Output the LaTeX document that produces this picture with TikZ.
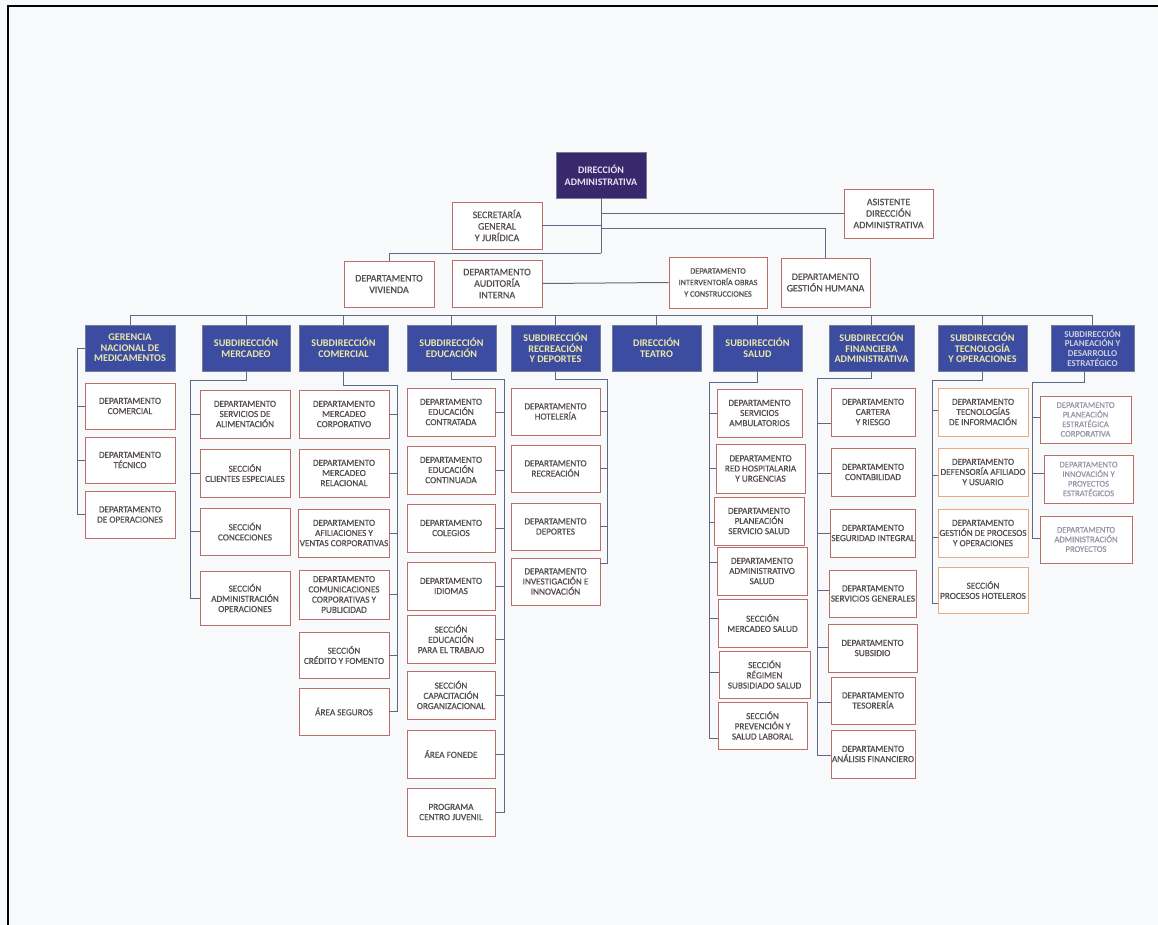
\documentclass[tikz,border=0pt]{standalone}
\usepackage{fontspec}
\setmainfont{Carlito}
\newfontfamily\medfont{Carlito}[FakeBold=0.6]
\definecolor{bg}{RGB}{248,249,251}
\definecolor{hdrfill}{RGB}{60,76,160}
\definecolor{hdrline}{RGB}{120,125,150}
\definecolor{hdrtext}{RGB}{236,232,170}
\definecolor{dirfill}{RGB}{58,40,108}
\definecolor{dirtext}{RGB}{232,228,245}
\definecolor{boxline}{RGB}{185,110,105}
\definecolor{boxtext}{RGB}{85,78,80}
\definecolor{orgline}{RGB}{95,105,132}
\definecolor{tecline}{RGB}{232,170,130}
\definecolor{fadetext}{RGB}{150,150,168}
\definecolor{fadehdr}{RGB}{205,208,225}
\newcommand\orgbox[7]{\node[#1, minimum width={(#4-#3)*1pt}, minimum height={(#6-#5)*1pt}] (#2) at ({(#3+#4)/2},{(#5+#6)/2}) {#7};}
\tikzset{
  topbox/.style={draw=boxline, fill=white, text=boxtext, line width=0.9pt, align=center, inner sep=1pt, font=\medfont\fontsize{10}{11.5}\selectfont},
  topsmall/.style={topbox, font=\medfont\fontsize{8.2}{11.5}\selectfont},
  dirbox/.style={draw=hdrline, fill=dirfill, text=dirtext, line width=0.9pt, align=center, inner sep=1pt, font=\bfseries\fontsize{10}{12}\selectfont},
  hdr/.style={draw=hdrline, fill=hdrfill, text=hdrtext, line width=0.9pt, align=center, inner sep=1pt, font=\bfseries\fontsize{10.2}{10.5}\selectfont},
  hdrfade/.style={hdr, text=fadehdr, font=\bfseries\fontsize{9}{9.6}\selectfont},
  cb/.style={draw=boxline, fill=white, text=boxtext, line width=0.9pt, align=center, inner sep=1pt, font=\medfont\fontsize{9.2}{10.2}\selectfont},
  cbtec/.style={cb, draw=tecline},
  cbfade/.style={cb, text=fadetext, font=\medfont\fontsize{8.6}{9.6}\selectfont},
  conn/.style={draw=orgline, line width=1pt}
}
\begin{document}
\begin{tikzpicture}[x=1pt,y=-1pt]
\fill[bg] (0,0) rectangle (1158,925);
\useasboundingbox (0,0) rectangle (1158,925);
\draw[line width=2.5pt, black] (1158,6) -- (8,6) -- (8,925);

% ---------- top level ----------
\orgbox{dirbox}{dir}{556}{646}{152}{198}{DIRECCIÓN\\ADMINISTRATIVA}
\orgbox{topbox}{sec}{452}{542}{202}{249}{SECRETARÍA\\GENERAL\\Y JURÍDICA}
\orgbox{topbox}{asi}{844}{933}{189}{238}{ASISTENTE\\DIRECCIÓN\\ADMINISTRATIVA}
\orgbox{topbox}{viv}{344}{434}{261}{307}{DEPARTAMENTO\\VIVIENDA}
\orgbox{topbox}{aud}{452}{542}{260}{307}{DEPARTAMENTO\\AUDITORÍA\\INTERNA}
\orgbox{topsmall}{int}{669}{767}{257}{308}{DEPARTAMENTO\\INTERVENTORÍA OBRAS\\Y CONSTRUCCIONES}
\orgbox{topbox}{ges}{781}{870}{258}{307}{DEPARTAMENTO\\GESTIÓN HUMANA}

\coordinate (d1) at (601,253);
\draw[conn] (dir.south) -- (d1);
\draw[conn] (sec.east) -- (sec.east -| dir.south);
\draw[conn] (dir.south |- asi.west) -- (asi.west);
\draw[conn] (dir.south |- 0,229) -| (ges.north);
\draw[conn] (d1) -| (viv.north);
\draw[conn] (aud.east) -- (int.west);

% ---------- second level ----------
\orgbox{hdr}{h1}{85}{175}{325}{371}{GERENCIA\\NACIONAL DE\\MEDICAMENTOS}
\orgbox{hdr}{h2}{202}{290}{325}{371}{SUBDIRECCIÓN\\MERCADEO}
\orgbox{hdr}{h3}{299}{388}{325}{371}{SUBDIRECCIÓN\\COMERCIAL}
\orgbox{hdr}{h4}{407}{496}{325}{371}{SUBDIRECCIÓN\\EDUCACIÓN}
\orgbox{hdr}{h5}{511}{600}{325}{371}{SUBDIRECCIÓN\\RECREACIÓN\\Y DEPORTES}
\orgbox{hdr}{h6}{612}{701}{325}{371}{DIRECCIÓN\\TEATRO}
\orgbox{hdr}{h7}{713}{802}{325}{371}{SUBDIRECCIÓN\\SALUD}
\orgbox{hdr}{h8}{829}{914}{325}{371}{SUBDIRECCIÓN\\FINANCIERA\\ADMINISTRATIVA}
\orgbox{hdr}{h9}{938}{1027}{325}{371}{SUBDIRECCIÓN\\TECNOLOGÍA\\Y OPERACIONES}
\orgbox{hdrfade}{h10}{1051}{1134}{325}{371}{SUBDIRECCIÓN\\PLANEACIÓN Y\\DESARROLLO\\ESTRATÉGICO}

\coordinate (busL) at (130,315);
\draw[conn] (h1.north |- busL) -- (h10.north |- busL);
\foreach \h in {h1,h2,h3,h4,h5,h6,h7,h8,h9,h10}{\draw[conn] (\h.north |- busL) -- (\h.north);}

% ---------- Gerencia ----------
\orgbox{cb}{g1}{85}{175}{383}{429}{DEPARTAMENTO\\COMERCIAL}
\orgbox{cb}{g2}{85}{175}{437}{483}{DEPARTAMENTO\\TÉCNICO}
\orgbox{cb}{g3}{85}{175}{491}{538}{DEPARTAMENTO\\DE OPERACIONES}
\coordinate (gv) at (77,348);
\draw[conn] (h1.west) -- (gv) |- (g3.west);
\foreach \c in {g1,g2}{\draw[conn] (gv |- \c.west) -- (\c.west);}

% ---------- Mercadeo ----------
\orgbox{cb}{m1}{200}{290}{390}{438}{DEPARTAMENTO\\SERVICIOS DE\\ALIMENTACIÓN}
\orgbox{cb}{m2}{200}{290}{449}{497}{SECCIÓN\\CLIENTES ESPECIALES}
\orgbox{cb}{m3}{200}{290}{508}{555}{SECCIÓN\\CONCECIONES}
\orgbox{cb}{m4}{200}{290}{571}{625}{SECCIÓN\\ADMINISTRACIÓN\\OPERACIONES}
\coordinate (mv) at (190,380);
\draw[conn] (h2.south) |- (mv) |- (m4.west);
\foreach \c in {m1,m2,m3}{\draw[conn] (mv |- \c.west) -- (\c.west);}

% ---------- Comercial ----------
\orgbox{cb}{c1}{299}{389}{390}{438}{DEPARTAMENTO\\MERCADEO\\CORPORATIVO}
\orgbox{cb}{c2}{299}{389}{449}{497}{DEPARTAMENTO\\MERCADEO\\RELACIONAL}
\orgbox{cb}{c3}{299}{389}{509}{557}{DEPARTAMENTO\\AFILIACIONES Y\\VENTAS CORPORATIVAS}
\orgbox{cb}{c4}{299}{389}{570}{619}{DEPARTAMENTO\\COMUNICACIONES\\CORPORATIVAS Y\\PUBLICIDAD}
\orgbox{cb}{c5}{299}{389}{632}{678}{SECCIÓN\\CRÉDITO Y FOMENTO}
\orgbox{cb}{c6}{299}{389}{688}{735}{ÁREA SEGUROS}
\coordinate (cv) at (397,385);
\draw[conn] (h3.south) |- (cv) |- (c6.east);
\foreach \c in {c1,c2,c3,c4,c5}{\draw[conn] (cv |- \c.east) -- (\c.east);}

% ---------- Educación ----------
\orgbox{cb}{e1}{407}{495}{388}{436}{DEPARTAMENTO\\EDUCACIÓN\\CONTRATADA}
\orgbox{cb}{e2}{407}{495}{446}{494}{DEPARTAMENTO\\EDUCACIÓN\\CONTINUADA}
\orgbox{cb}{e3}{407}{495}{504}{552}{DEPARTAMENTO\\COLEGIOS}
\orgbox{cb}{e4}{407}{495}{562}{610}{DEPARTAMENTO\\IDIOMAS}
\orgbox{cb}{e5}{407}{495}{615}{663}{SECCIÓN\\EDUCACIÓN\\PARA EL TRABAJO}
\orgbox{cb}{e6}{407}{495}{671}{719}{SECCIÓN\\CAPACITACIÓN\\ORGANIZACIONAL}
\orgbox{cb}{e7}{407}{495}{730}{778}{ÁREA FONEDE}
\orgbox{cb}{e8}{407}{495}{788}{836}{PROGRAMA\\CENTRO JUVENIL}
\coordinate (ev) at (504,379);
\draw[conn] (h4.south) |- (ev) |- (e8.east);
\foreach \c in {e1,e2,e3,e4,e5,e6,e7}{\draw[conn] (ev |- \c.east) -- (\c.east);}

% ---------- Recreación ----------
\orgbox{cb}{r1}{511}{600}{388}{435}{DEPARTAMENTO\\HOTELERÍA}
\orgbox{cb}{r2}{511}{600}{445}{492}{DEPARTAMENTO\\RECREACIÓN}
\orgbox{cb}{r3}{511}{600}{503}{550}{DEPARTAMENTO\\DEPORTES}
\orgbox{cb}{r4}{511}{600}{558}{605}{DEPARTAMENTO\\INVESTIGACIÓN E\\INNOVACIÓN}
\coordinate (rv) at (607,379);
\draw[conn] (h5.south) |- (rv) |- (r4.east |- 0,563);
\foreach \c in {r1,r2,r3}{\draw[conn] (rv |- \c.east) -- (\c.east);}

% ---------- Salud ----------
\orgbox{cb}{s1}{717}{802}{389}{437}{DEPARTAMENTO\\SERVICIOS\\AMBULATORIOS}
\orgbox{cb}{s2}{716}{805}{444}{493}{DEPARTAMENTO\\RED HOSPITALARIA\\Y URGENCIAS}
\orgbox{cb}{s3}{714}{804}{497}{545}{DEPARTAMENTO\\PLANEACIÓN\\SERVICIO SALUD}
\orgbox{cb}{s4}{717}{807}{547}{595}{DEPARTAMENTO\\ADMINISTRATIVO\\SALUD}
\orgbox{cb}{s5}{718}{807}{599}{647}{SECCIÓN\\MERCADEO SALUD}
\orgbox{cb}{s6}{719}{810}{651}{698}{SECCIÓN\\RÉGIMEN\\SUBSIDIADO SALUD}
\orgbox{cb}{s7}{718}{807}{702}{749}{SECCIÓN\\PREVENCIÓN Y\\SALUD LABORAL}
\coordinate (sv) at (709,382);
\draw[conn] (h7.south) |- (sv) |- (s7.west |- 0,738);
\draw[conn] (sv |- 0,413) -- (s1.west |- 0,413);
\draw[conn] (sv |- 0,468) -- (s2.west |- 0,468);
\draw[conn] (sv |- 0,522) -- (s3.west |- 0,522);
\draw[conn] (sv |- 0,562) -- (s4.west |- 0,562);
\draw[conn] (sv |- 0,618) -- (s5.west |- 0,618);
\draw[conn] (sv |- 0,672) -- (s6.west |- 0,672);

% ---------- Financiera ----------
\orgbox{cb}{f1}{831}{915}{388}{436}{DEPARTAMENTO\\CARTERA\\Y RIESGO}
\orgbox{cb}{f2}{831}{915}{448}{496}{DEPARTAMENTO\\CONTABILIDAD}
\orgbox{cb}{f3}{831}{915}{509}{557}{DEPARTAMENTO\\SEGURIDAD INTEGRAL}
\orgbox{cb}{f4}{831}{915}{570}{617}{DEPARTAMENTO\\SERVICIOS GENERALES}
\orgbox{cb}{f5}{828}{917}{624}{672}{DEPARTAMENTO\\SUBSIDIO}
\orgbox{cb}{f6}{831}{915}{677}{724}{DEPARTAMENTO\\TESORERÍA}
\orgbox{cb}{f7}{831}{915}{730}{778}{DEPARTAMENTO\\ANÁLISIS FINANCIERO}
\coordinate (fv) at (817,378);
\draw[conn] (h8.south) |- (fv) |- (f7.west |- 0,755);
\draw[conn] (fv |- 0,423) -- (f1.west |- 0,423);
\draw[conn] (fv |- 0,473) -- (f2.west |- 0,473);
\draw[conn] (fv |- 0,533) -- (f3.west |- 0,533);
\draw[conn] (fv |- 0,590) -- (f4.west |- 0,590);
\draw[conn] (fv |- 0,647) -- (f5.west |- 0,647);
\draw[conn] (fv |- 0,702) -- (f6.west |- 0,702);

% ---------- Tecnología ----------
\orgbox{cbtec}{t1}{938}{1028}{388}{436}{DEPARTAMENTO\\TECNOLOGÍAS\\DE INFORMACIÓN}
\orgbox{cbtec}{t2}{938}{1028}{448}{496}{DEPARTAMENTO\\DEFENSORÍA AFILIADO\\Y USUARIO}
\orgbox{cbtec}{t3}{938}{1028}{509}{557}{DEPARTAMENTO\\GESTIÓN DE PROCESOS\\Y OPERACIONES}
\orgbox{cbtec}{t4}{938}{1028}{567}{613}{SECCIÓN\\PROCESOS HOTELEROS}
\coordinate (tv) at (932,380);
\draw[conn] (h9.south) |- (tv) |- (t4.west |- 0,603);
\draw[conn] (tv |- 0,410) -- (t1.west |- 0,410);
\draw[conn] (tv |- 0,475) -- (t2.west |- 0,475);
\draw[conn] (tv |- 0,537) -- (t3.west |- 0,537);

% ---------- Planeación ----------
\orgbox{cbfade}{p1}{1040}{1131}{396}{443}{DEPARTAMENTO\\PLANEACIÓN\\ESTRATÉGICA\\CORPORATIVA}
\orgbox{cbfade}{p2}{1044}{1133}{455}{503}{DEPARTAMENTO\\INNOVACIÓN Y\\PROYECTOS\\ESTRATÉGICOS}
\orgbox{cbfade}{p3}{1040}{1132}{516}{563}{DEPARTAMENTO\\ADMINISTRACIÓN\\PROYECTOS}
\coordinate (pv) at (1032,382);
\draw[conn] ([xshift=-8pt]h10.south) |- (pv) |- (p3.west |- 0,538);
\draw[conn] (pv |- 0,417) -- (p1.west |- 0,417);
\draw[conn] (pv |- 0,473) -- (p2.west |- 0,473);
\end{tikzpicture}
\end{document}
